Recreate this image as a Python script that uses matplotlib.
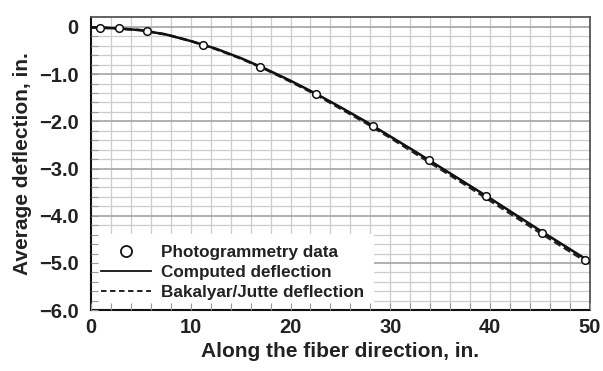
import numpy as np
import matplotlib
matplotlib.use("Agg")
import matplotlib.pyplot as plt
from matplotlib.lines import Line2D

plt.rcParams['font.family'] = ['Liberation Sans', 'DejaVu Sans']
plt.rcParams['font.weight'] = 'bold'
plt.rcParams['axes.labelweight'] = 'bold'

# photogrammetry measurements
photo_x = [0.9, 2.8, 5.6, 11.25, 16.95, 22.6, 28.25, 33.9, 39.6, 45.2, 49.5]
photo_y = [-0.02, -0.03, -0.08, -0.38, -0.84, -1.42, -2.11, -2.81, -3.59, -4.36, -4.93]

# computed deflection curve
curve_x = [0, 2.5, 5, 7.5, 10, 12.5, 15, 17.5, 20, 22.5, 25, 27.5, 30,
           32.5, 35, 37.5, 40, 42.5, 45, 47.5, 50]
computed_y = [-0.01, -0.03, -0.07, -0.16, -0.30, -0.46, -0.66, -0.89, -1.14,
              -1.41, -1.70, -2.00, -2.32, -2.64, -2.97, -3.30, -3.63, -3.97,
              -4.31, -4.64, -4.97]
# Bakalyar/Jutte
bakalyar_y = [-0.01, -0.03, -0.07, -0.16, -0.30, -0.47, -0.67, -0.90, -1.16,
              -1.43, -1.73, -2.03, -2.35, -2.68, -3.01, -3.34, -3.68, -4.02,
              -4.36, -4.69, -5.02]

yticks = [0, -1, -2, -3, -4, -5, -6]
ytick_labels = ['0', '\u22121.0', '\u22122.0', '\u22123.0', '\u22124.0', '\u22125.0', '\u22126.0']
xticks = [0, 10, 20, 30, 40, 50]

fig = plt.figure(figsize=(6.03, 3.71), dpi=100)
ax = fig.add_axes([0.151, 0.164, 0.827, 0.789])
ax.set_xlim(0, 50)
ax.set_ylim(-6, 0.2)

# grid drawn by hand so the legend box can hide it but not the ticks
for gx in np.arange(2, 50, 2):
    ax.axvline(gx, color='#cccccc', lw=0.9, zorder=0.5)
for gy in np.arange(-5.8, 0.2, 0.2):
    major = abs(gy - round(gy)) < 1e-6
    ax.axhline(gy, color='#aaaaaa' if major else '#cccccc',
               lw=1.3 if major else 0.9, zorder=0.5)

ax.plot(curve_x, bakalyar_y, color='#222222', lw=1.8, ls=(0, (3, 1.5)), zorder=3)
ax.plot(curve_x, computed_y, color='#111111', lw=1.8, zorder=3)
ax.plot(photo_x, photo_y, 'o', ms=5.5, mfc='white', mec='#111111', mew=1.1, zorder=4)

ax.set_xticks(xticks)
ax.set_yticks(yticks)
ax.set_yticklabels(ytick_labels)
ax.set_xticks(np.arange(0, 51, 2), minor=True)
ax.set_yticks(np.arange(-6, 0.2, 0.2), minor=True)
ax.tick_params(which='both', direction='in', length=5, width=0.8, color='#999999')
ax.tick_params(which='major', labelsize=14.5, labelcolor='#222222')
ax.tick_params(axis='x', pad=6)
ax.tick_params(axis='y', pad=9)

for s in ['left', 'bottom']:
    ax.spines[s].set_color('#111111')
    ax.spines[s].set_linewidth(1.5)
for s in ['top', 'right']:
    ax.spines[s].set_color('#555555')
    ax.spines[s].set_linewidth(1.3)
ax.set_axisbelow(False)

ax.set_xlabel('Along the fiber direction, in.', fontsize=15, color='#222222', labelpad=3)
ax.set_ylabel('Average deflection, in.', fontsize=15, color='#222222', labelpad=5)

handles = [
    Line2D([], [], ls='none', marker='o', ms=8, mfc='white', mec='#111111', mew=1.3),
    Line2D([], [], color='#111111', lw=1.3),
    Line2D([], [], color='#111111', lw=1.3, ls=(0, (3, 2))),
]
labels = ['Photogrammetry data', 'Computed deflection', 'Bakalyar/Jutte deflection']
leg = ax.legend(handles, labels, loc='lower left', bbox_to_anchor=(0, 0),
                borderaxespad=0, fancybox=False, framealpha=1,
                edgecolor='none', fontsize=12.3, handlelength=2.9,
                handletextpad=0.6, labelspacing=0.3, borderpad=0.6)
leg.set_zorder(2)
for t in leg.get_texts():
    t.set_color('#222222')

fig.savefig('out.png', dpi=100)
